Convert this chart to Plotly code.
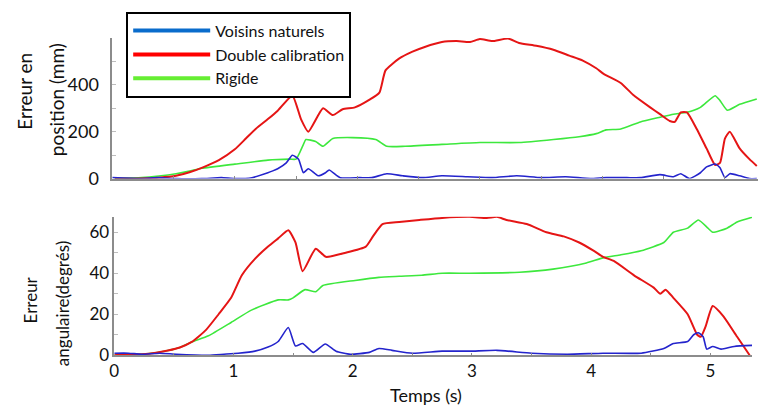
import plotly.graph_objects as go

# ---------------- data (top panel: position error, mm) ----------------
t_pos_red = [0.02, 0.24, 0.38, 0.52, 0.63, 0.73, 0.87, 1.00, 1.09, 1.17, 1.27, 1.35, 1.47, 1.54, 1.60, 1.72, 1.80,
             1.88, 1.98, 2.10, 2.18, 2.23, 2.34, 2.45, 2.55, 2.69, 2.81, 2.92, 3.00, 3.10, 3.23, 3.32,
             3.46, 3.60, 3.73, 3.84, 3.95, 4.01, 4.15, 4.25, 4.39, 4.47, 4.55, 4.59, 4.64, 4.69, 4.77,
             4.85, 4.92, 4.96, 5.00, 5.04, 5.12, 5.20, 5.26]
pos_red = [0, 0, 4, 12, 27, 46, 79, 125, 171, 212, 254, 290, 354, 254, 200, 300, 271,
           296, 304, 337, 367, 462, 512, 542, 562, 583, 587, 583, 596, 587, 598, 579,
           567, 550, 525, 504, 471, 447, 408, 358, 304, 275, 246, 242, 283, 283, 212,
           129, 58, 67, 171, 200, 129, 83, 54]

t_pos_green = [0.02, 0.24, 0.38, 0.52, 0.63, 0.73, 1.00, 1.27, 1.45, 1.50, 1.56, 1.58, 1.66, 1.72, 1.80, 1.96, 2.15,
               2.24, 2.39, 2.69, 3.00, 3.32, 3.60, 3.81, 3.95, 4.03, 4.15, 4.31, 4.47, 4.58, 4.69, 4.80,
               4.92, 4.96, 5.02, 5.12, 5.26]
pos_green = [0, 4, 11, 21, 32, 44, 62, 79, 83, 83, 146, 167, 158, 138, 171, 175, 167,
             138, 138, 146, 154, 154, 167, 179, 192, 208, 212, 242, 262, 275, 283, 304,
             354, 333, 292, 317, 340]

t_pos_blue = [0.00, 0.24, 0.38, 0.52, 0.73, 0.89, 1.00, 1.14, 1.27, 1.31, 1.35, 1.42, 1.47, 1.52, 1.56,
              1.60, 1.68, 1.74, 1.77, 1.86, 2.02, 2.12, 2.24, 2.37, 2.53, 2.69, 2.90, 3.10, 3.30, 3.50,
              3.70, 3.90, 4.03, 4.20, 4.31, 4.47, 4.58, 4.64, 4.71, 4.80, 4.85, 4.92, 4.96, 5.00, 5.04,
              5.12, 5.20, 5.26]
pos_blue = [4, 0, 4, 0, 0, 4, 0, 4, 25, 33, 42, 67, 100, 83, 25,
            42, 12, 25, 37, 4, 4, 4, 21, 12, 4, 12, 8, 4, 12, 4,
            8, 0, 4, 4, 4, 17, 8, 21, 0, 25, 50, 62, 46, 4, 21,
            12, 0, 0]

# ---------------- data (bottom panel: angular error, degrees) ----------------
t_ang_red = [0.00, 0.12, 0.23, 0.35, 0.45, 0.55, 0.65, 0.77, 0.875, 0.98, 1.07, 1.18, 1.29, 1.375, 1.46, 1.52, 1.58,
             1.69, 1.775, 1.94, 2.11, 2.17, 2.25, 2.39, 2.56, 2.75, 2.98, 3.125, 3.21, 3.29, 3.46, 3.625,
             3.77, 3.90, 4.02, 4.10, 4.19, 4.36, 4.525, 4.58, 4.625, 4.69, 4.81, 4.89, 4.92, 4.96, 5.02,
             5.11, 5.225, 5.33]
ang_red = [0, 0.5, 0.5, 1.2, 2.3, 3.8, 6.5, 12.4, 20, 28, 39, 47, 53, 57, 61, 55, 41,
           52, 48, 50, 53, 58, 64, 65, 66, 67, 67.5, 67, 67.5, 66, 64, 60,
           58, 55, 51, 48, 46, 39, 33, 30, 32, 28, 20, 10, 9, 14, 24,
           19, 9, 0]

t_ang_green = [0.00, 0.23, 0.35, 0.45, 0.55, 0.65, 0.79, 0.98, 1.15, 1.375, 1.46, 1.50, 1.60, 1.69, 1.75, 2.02, 2.22,
               2.39, 2.58, 2.75, 2.98, 3.40, 3.68, 3.96, 4.10, 4.25, 4.42, 4.61, 4.69, 4.81, 4.90, 4.98,
               5.02, 5.14, 5.225, 5.35]
ang_green = [0, 0.5, 1.2, 2.3, 3.8, 6.5, 9.5, 16, 22, 27, 27, 28, 32, 31, 34, 36.5, 38,
             38.5, 39, 40, 40, 40.5, 42, 45, 47.5, 49, 51, 55, 60, 62, 66, 62,
             60, 62, 65, 67.3]

t_ang_blue = [0.00, 0.12, 0.23, 0.38, 0.52, 0.79, 0.92, 1.04, 1.18, 1.29, 1.375, 1.46, 1.52, 1.58, 1.67,
              1.77, 1.86, 1.98, 2.14, 2.22, 2.33, 2.50, 2.75, 2.98, 3.21, 3.50, 3.80, 4.10, 4.42, 4.61,
              4.69, 4.81, 4.86, 4.90, 4.94, 4.97, 5.02, 5.09, 5.20, 5.35]
ang_blue = [1, 1, 0.5, 1, 0.5, 0, 0.5, 1, 2, 4, 6.7, 13.5, 4.5, 5.7, 1.4,
            5.5, 2, 0.5, 1.4, 3.3, 2.4, 1, 2, 2, 2.4, 1, 0.5, 1, 1, 3.3,
            5.7, 6.7, 10, 11, 9, 3, 4.3, 3, 4.3, 4.8]

series_names = ["Voisins naturels", "Double calibration", "Rigide"]
pos_ticks = [0, 200, 400]
ang_ticks = [0, 20, 40, 60]
time_ticks = [0, 1, 2, 3, 4, 5]

# ---------------- styling ----------------
BLUE, RED, GREEN = "#2424cc", "#e51515", "#3de83d"
LEG_BLUE, LEG_RED, LEG_GREEN = "#0a6ccc", "#ff0000", "#66ee33"
FONT = "Lato"
W, H = 758, 416

def px(x):
    return x / W

def py(y):
    return 1 - y / H

fig = go.Figure()

def add(t, v, color, width, xa, ya):
    fig.add_trace(go.Scatter(x=t, y=v, mode="lines", xaxis=xa, yaxis=ya, showlegend=False,
                             line=dict(color=color, width=width, shape="spline", smoothing=0.5),
                             hoverinfo="skip"))

add(t_pos_green, pos_green, GREEN, 1.6, "x", "y")
add(t_pos_red, pos_red, RED, 2.0, "x", "y")
add(t_pos_blue, pos_blue, BLUE, 1.6, "x", "y")
add(t_ang_green, ang_green, GREEN, 1.6, "x2", "y2")
add(t_ang_red, ang_red, RED, 2.0, "x2", "y2")
add(t_ang_blue, ang_blue, BLUE, 1.6, "x2", "y2")

# legend-only entries
for name, col in zip(series_names, [LEG_BLUE, LEG_RED, LEG_GREEN]):
    fig.add_trace(go.Scatter(x=[None], y=[None], mode="lines", name=name,
                             line=dict(color=col, width=4), xaxis="x", yaxis="y"))

AX = "#8c8c8c"
common_x = dict(showgrid=False, zeroline=False, showline=True, linecolor=AX, linewidth=1.5,
                ticks="inside", ticklen=3, tickcolor=AX)
common_y = dict(showgrid=False, zeroline=False, showline=True, linecolor=AX, linewidth=1.5,
                ticks="inside", ticklen=4, tickcolor="#bdbdbd")

fig.update_layout(
    width=W, height=H,
    margin=dict(l=0, r=0, t=0, b=0),
    paper_bgcolor="white", plot_bgcolor="white",
    font=dict(family=FONT, color="#111111"),
    xaxis=dict(common_x, domain=[px(108), 1.0], range=[0, 5.27], anchor="y",
               tickvals=[0.5 * i for i in range(11)], showticklabels=False),
    yaxis=dict(common_y, domain=[py(183), py(39)], range=[0, 600], anchor="x",
               tickvals=pos_ticks, ticktext=[str(v) for v in pos_ticks],
               minor=dict(dtick=100, ticks="inside", ticklen=4, tickcolor="#bdbdbd"),
               tickfont=dict(size=18, family=FONT), ticklabelstandoff=8),
    xaxis2=dict(common_x, domain=[px(110), px(752)], range=[0, 5.35], anchor="y2",
                tickvals=time_ticks, ticktext=[str(v) for v in time_ticks],
                minor=dict(dtick=0.5, ticks="inside", ticklen=3, tickcolor=AX),
                tickfont=dict(size=17, family=FONT)),
    yaxis2=dict(common_y, domain=[py(364), py(222)], range=[0, 67.6], anchor="x2",
                tickvals=ang_ticks, ticktext=[str(v) for v in ang_ticks],
                minor=dict(dtick=10, ticks="inside", ticklen=4, tickcolor="#bdbdbd"),
                tickfont=dict(size=17, family=FONT)),
    legend=dict(x=px(122), y=py(12), xanchor="left", yanchor="top",
                bgcolor="white", bordercolor="black", borderwidth=2,
                font=dict(size=16, family=FONT), itemwidth=77,
                tracegroupgap=0),
    annotations=[
        dict(text="Erreur en", x=px(20), y=py(93), xref="paper", yref="paper", textangle=-90,
             showarrow=False, font=dict(size=19, family=FONT), xanchor="center", yanchor="middle"),
        dict(text="position (mm)", x=px(52), y=py(102), xref="paper", yref="paper", textangle=-90,
             showarrow=False, font=dict(size=19, family=FONT), xanchor="center", yanchor="middle"),
        dict(text="Erreur", x=px(26), y=py(307), xref="paper", yref="paper", textangle=-90,
             showarrow=False, font=dict(size=17, family=FONT), xanchor="center", yanchor="middle"),
        dict(text="angulaire(degrés)", x=px(58), y=py(311), xref="paper", yref="paper", textangle=-90,
             showarrow=False, font=dict(size=17, family=FONT), xanchor="center", yanchor="middle"),
        dict(text="Temps (s)", x=px(424), y=py(405), xref="paper", yref="paper",
             showarrow=False, font=dict(size=18, family=FONT), xanchor="center", yanchor="middle"),
    ],
)

fig.write_html("out.html", config={"displayModeBar": False},
               post_script="document.body.style.margin='0';")
